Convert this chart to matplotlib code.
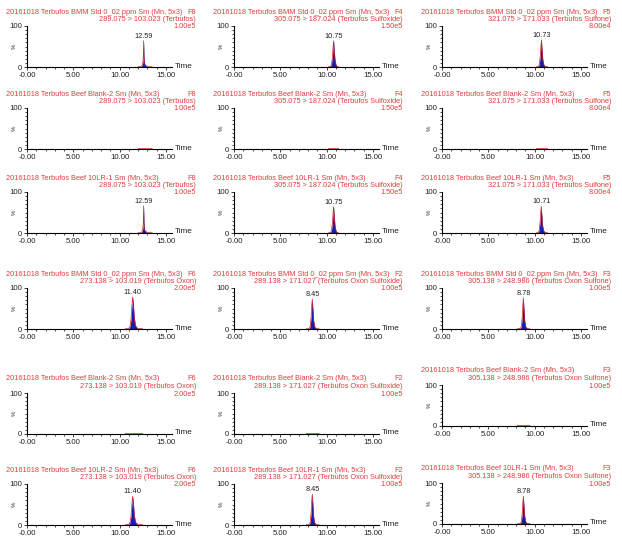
import matplotlib
matplotlib.use('Agg')
import matplotlib.pyplot as plt
from matplotlib.ticker import MultipleLocator, FixedLocator

plt.rcParams['font.family'] = ['Liberation Sans', 'DejaVu Sans']

W, H = 622, 548
RED_TEXT = '#d9403f'
RED_LINE = '#cc2222'
BLUE_FILL = '#1a1ab0'

# channel info, one per compound
channels = ['F8', 'F4', 'F5', 'F6', 'F2', 'F3']
transitions = ['289.075 > 103.023 (Terbufos)',
               '305.075 > 187.024 (Terbufos Sulfoxide)',
               '321.075 > 171.033 (Terbufos Sulfone)',
               '273.138 > 103.019 (Terbufos Oxon)',
               '289.138 > 171.027 (Terbufos Oxon Sulfoxide)',
               '305.138 > 248.986 (Terbufos Oxon Sulfone)']
scales = ['1.00e5', '1.50e5', '8.00e4', '2.00e5', '1.00e5', '1.00e5']

samples = [['BMM Std 0_02 ppm'] * 3,
           ['Beef Blank-2'] * 3,
           ['Beef 10LR-1'] * 3,
           ['BMM Std 0_02 ppm'] * 3,
           ['Beef Blank-2'] * 3,
           ['Beef 10LR-2', 'Beef 10LR-1', 'Beef 10LR-1']]

peak_rt = [['12.59', '10.75', '10.73'],
           [None, None, None],
           ['12.59', '10.75', '10.71'],
           ['11.40', '8.45', '8.78'],
           [None, None, None],
           ['11.40', '8.45', '8.78']]

# traces (time in min, intensity in %), row by row
std_a_t = [[12.00, 12.25, 12.40, 12.50, 12.55, 12.59, 12.63, 12.70, 12.80, 12.90, 13.00, 13.20, 13.50],
           [10.20, 10.40, 10.52, 10.62, 10.69, 10.75, 10.81, 10.90, 11.00, 11.12, 11.30],
           [10.20, 10.40, 10.50, 10.60, 10.67, 10.73, 10.79, 10.88, 10.98, 11.12, 11.40]]
std_a_y = [[0.5, 0.8, 3, 10, 25, 64, 24, 8, 3, 3, 1.5, 0.8, 0.5],
           [0.5, 1, 6, 24, 48, 64, 44, 18, 6, 1.5, 0.5],
           [0.5, 1, 6, 25, 50, 66, 46, 18, 6, 1.5, 0.5]]

blank_a_t = [[12.00, 12.50, 13.00, 13.50],
             [10.20, 10.70, 11.30],
             [10.20, 10.80, 11.40]]
blank_a_y = [[0.8, 1.0, 0.9, 0.8],
             [0.8, 1.0, 0.8],
             [0.8, 1.0, 0.8]]

spike_a_t = [[12.00, 12.25, 12.40, 12.50, 12.55, 12.59, 12.63, 12.70, 12.80, 12.90, 13.00, 13.20, 13.50],
             [10.20, 10.40, 10.52, 10.62, 10.69, 10.75, 10.81, 10.90, 11.00, 11.12, 11.30],
             [10.20, 10.38, 10.48, 10.58, 10.65, 10.71, 10.77, 10.86, 10.96, 11.12, 11.40]]
spike_a_y = [[0.5, 0.8, 3, 10, 26, 66, 24, 8, 3, 3, 1.5, 0.8, 0.5],
             [0.5, 1, 6, 24, 48, 64, 44, 18, 6, 1.5, 0.5],
             [0.5, 1, 6, 25, 50, 65, 46, 18, 6, 1.5, 0.5]]

std_b_t = [[10.60, 10.95, 11.10, 11.22, 11.32, 11.40, 11.48, 11.58, 11.70, 11.85, 12.05, 12.50],
           [7.80, 8.10, 8.22, 8.32, 8.39, 8.45, 8.51, 8.60, 8.70, 8.85, 9.20],
           [8.10, 8.45, 8.56, 8.66, 8.72, 8.78, 8.84, 8.93, 9.03, 9.18, 9.50]]
std_b_y = [[0.5, 1, 5, 22, 55, 78, 62, 28, 9, 3, 1.5, 0.5],
           [0.5, 1, 6, 28, 58, 73, 52, 20, 6, 1.5, 0.5],
           [0.5, 1, 6, 28, 58, 76, 52, 20, 6, 1.5, 0.5]]

blank_b_t = [[10.60, 11.50, 12.50],
             [7.80, 8.50, 9.20],
             [8.10, 8.80, 9.50]]
blank_b_y = [[0.8, 1.0, 0.8],
             [0.8, 1.0, 0.8],
             [0.8, 1.0, 0.8]]

spike_b_t = [[10.60, 10.95, 11.10, 11.22, 11.32, 11.40, 11.48, 11.58, 11.70, 11.85, 12.05, 12.50],
             [7.80, 8.10, 8.22, 8.32, 8.39, 8.45, 8.51, 8.60, 8.70, 8.85, 9.20],
             [8.10, 8.45, 8.56, 8.66, 8.72, 8.78, 8.84, 8.93, 9.03, 9.18, 9.50]]
spike_b_y = [[0.5, 1, 5, 20, 50, 70, 55, 24, 8, 3, 1.5, 0.5],
             [0.5, 1, 6, 29, 59, 75, 52, 20, 6, 1.5, 0.5],
             [0.5, 1, 6, 25, 52, 68, 47, 18, 6, 1.5, 0.5]]

rows_t = [std_a_t, blank_a_t, spike_a_t, std_b_t, blank_b_t, spike_b_t]
rows_y = [std_a_y, blank_a_y, spike_a_y, std_b_y, blank_b_y, spike_b_y]

# layout in pixels
col_left = [27, 234, 442]
axis_w = 145
panel_top = [[26, 26, 26], [108, 108, 108], [192, 192, 192],
             [288, 288, 288], [393, 393, 385], [484, 484, 483]]
panel_h = 41

fig = plt.figure(figsize=(W / 100, H / 100), dpi=100)
fs = 5.3

for r in range(6):
    for c in range(3):
        k = c if r < 3 else c + 3
        left = col_left[c]
        top = panel_top[r][c]
        ax = fig.add_axes([left / W, 1 - (top + panel_h) / H, axis_w / W, panel_h / H])
        t = rows_t[r][c]
        y = rows_y[r][c]
        ax.fill_between(t, 0, y, color=BLUE_FILL, lw=0)
        ax.plot(t, y, color=RED_LINE, lw=0.5)
        if peak_rt[r][c] is not None:
            ax.text(float(peak_rt[r][c]), max(y) + 3, peak_rt[r][c], ha='center', va='bottom',
                    fontsize=fs, color='#222222')
        ax.set_xlim(0, 15.65)
        ax.set_ylim(0, 100)
        for s in ['top', 'right']:
            ax.spines[s].set_visible(False)
        for s in ['left', 'bottom']:
            ax.spines[s].set_linewidth(0.8)
        ax.xaxis.set_major_locator(FixedLocator([0, 5, 10, 15]))
        ax.set_xticklabels(['-0.00', '5.00', '10.00', '15.00'])
        ax.xaxis.set_minor_locator(MultipleLocator(1))
        ax.yaxis.set_major_locator(FixedLocator([0, 100]))
        ax.set_yticklabels(['0', '100'])
        ax.yaxis.set_minor_locator(MultipleLocator(10))
        ax.tick_params(which='major', length=2.5, width=0.6, pad=1, labelsize=fs + 0.3, colors='#222222')
        ax.tick_params(which='minor', length=1.4, width=0.5)
        ax.text(-0.085, 0.5, '%', rotation=90, transform=ax.transAxes, ha='center', va='center',
                fontsize=fs - 1, color='#222222')
        fig.text((left + axis_w + 3) / W, 1 - (top + panel_h - 1) / H, 'Time', ha='left', va='center',
                 fontsize=fs + 0.6, color='#222222')

        # header lines
        xl = (left - 21) / W
        xr = (left + 169) / W
        title = '20161018 Terbufos ' + samples[r][c] + ' Sm (Mn, 5x3)'
        fig.text(xl, 1 - (top - 14) / H, title, ha='left', va='center', fontsize=fs, color=RED_TEXT)
        fig.text(xr, 1 - (top - 14) / H, channels[k], ha='right', va='center', fontsize=fs, color=RED_TEXT)
        fig.text(xr, 1 - (top - 6.5) / H, transitions[k], ha='right', va='center', fontsize=fs, color=RED_TEXT)
        fig.text(xr, 1 - (top + 1) / H, scales[k], ha='right', va='center', fontsize=fs, color=RED_TEXT)

fig.savefig('out.png', dpi=100)
